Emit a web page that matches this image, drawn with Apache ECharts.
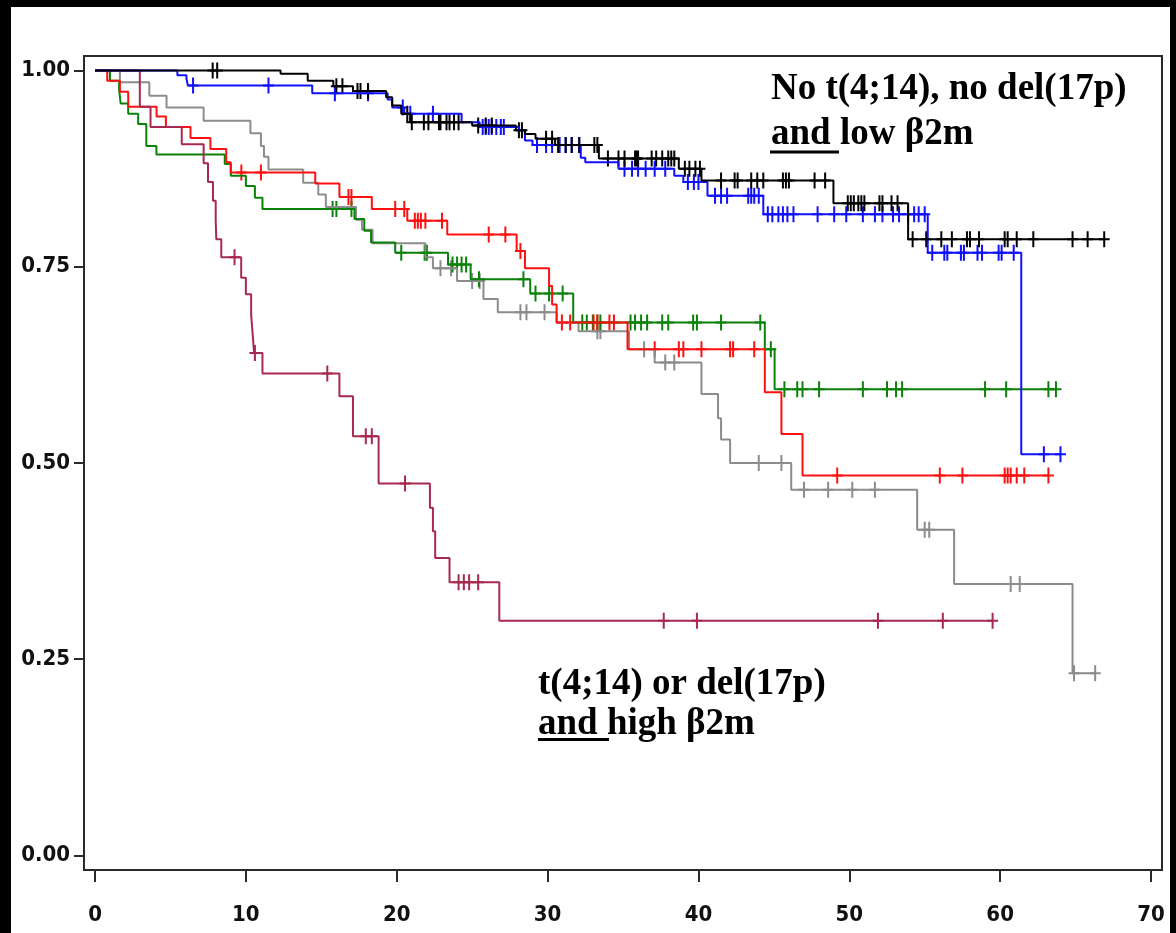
<!DOCTYPE html>
<html>
<head>
<meta charset="utf-8">
<title>Kaplan-Meier survival by cytogenetics and β2m</title>
<script src="https://cdn.jsdelivr.net/npm/echarts@6/dist/echarts.min.js"></script>
<style>
  html, body { margin: 0; padding: 0; background: #fff; }
  #chart { width: 1176px; height: 933px; }
</style>
</head>
<body>
<div id="chart"></div>
<script>
// Axis ticks (months, survival probability)
const xTicks = [0, 10, 20, 30, 40, 50, 60, 70];
const yTicks = [0, 0.25, 0.5, 0.75, 1];

// Each group: step points [time, survival from that time on] and censoring times
const blackSteps = [[0,1],[12.3,0.996],[14.1,0.987],[15.8,0.980],[17.1,0.974],[19.3,0.966],[19.7,0.9555],
  [20.3,0.945],[20.9,0.934],[25.0,0.930],[27.9,0.924],[28.5,0.919],[29.2,0.913],[30.5,0.905],[33.4,0.888],
  [38.7,0.875],[40.2,0.860],[48.95,0.831],[53.9,0.785]];
const blackCensored = [7.8,8.1,16.0,16.4,17.4,17.6,18.1,20.7,21.0,21.8,22.1,22.8,22.9,23.3,23.5,23.8,24.1,
  25.4,25.9,26.3,28.1,28.3,29.9,30.3,30.7,31.2,31.6,32.1,33.1,33.3,34.0,34.7,35.1,35.8,35.9,36.0,36.9,37.2,
  37.6,38.0,38.2,38.4,39.1,39.4,39.8,40.1,41.5,42.4,42.6,43.5,43.9,44.3,45.6,45.8,46.0,47.7,48.4,49.9,50.1,
  50.3,50.6,50.8,51.0,52.0,52.2,52.8,53.2,54.2,55.1,56.1,56.8,57.8,58.0,58.6,60.3,60.5,61.1,62.2,64.8,65.8,66.9];

const blueSteps = [[0,1],[5.46,0.994],[6.06,0.990],[6.15,0.981],[14.4,0.971],[19.4,0.963],[19.7,0.953],
  [20.5,0.945],[24.3,0.934],[25.5,0.928],[28.1,0.924],[28.5,0.911],[29.0,0.905],[32.2,0.889],[32.5,0.883],
  [34.7,0.875],[38.4,0.866],[39.0,0.858],[40.6,0.8406],[44.3,0.817],[55.2,0.768],[61.4,0.511]];
const blueCensored = [6.5,11.5,15.9,18.1,20.4,20.9,22.4,25.7,25.9,26.1,26.3,26.6,26.9,27.1,29.3,29.9,30.3,
  30.8,31.2,31.6,32.1,35.1,35.6,36.0,36.5,37.1,37.8,39.3,39.7,40.0,41.1,41.5,41.9,43.3,43.5,43.7,44.0,44.6,
  44.9,45.3,45.6,45.9,46.3,47.9,49.0,49.8,50.9,51.7,52.2,52.9,53.3,53.9,54.3,54.6,55.0,55.5,56.3,56.5,57.4,
  57.6,58.5,58.8,59.9,60.1,60.9,62.9,64.0];

const graySteps = [[0,1],[1.65,0.985],[3.6,0.968],[4.74,0.953],[7.2,0.936],[10.3,0.920],[11.0,0.904],
  [11.2,0.890],[11.5,0.874],[13.8,0.857],[14.8,0.842],[15.3,0.826],[17.3,0.810],[17.7,0.797],[18.4,0.780],
  [21.9,0.762],[22.4,0.748],[24.0,0.732],[25.75,0.709],[26.7,0.692],[30.6,0.679],[32.05,0.668],[35.4,0.645],
  [37.1,0.628],[40.2,0.588],[41.3,0.557],[41.5,0.530],[42.1,0.500],[46.15,0.466],[54.5,0.415],[56.95,0.346],
  [64.8,0.232]];
const grayCensored = [22.9,23.6,25.0,25.5,28.2,28.6,29.8,33.3,33.5,36.4,37.8,38.4,44.0,45.5,47.0,48.6,50.2,
  51.7,55.0,55.3,60.7,61.3,64.9,66.3];

const redSteps = [[0,1],[0.81,0.987],[1.65,0.973],[2.2,0.954],[4.08,0.9415],[4.7,0.928],[6.33,0.914],
  [7.65,0.900],[8.7,0.883],[9.0,0.870],[14.6,0.856],[16.2,0.839],[18.35,0.8235],[20.7,0.8086],[23.35,0.791],
  [27.95,0.770],[28.5,0.748],[30.1,0.7256],[30.3,0.702],[30.6,0.679],[35.3,0.645],[44.4,0.590],[45.5,0.537],
  [46.9,0.484]];
const redCensored = [9.7,11.0,16.8,17.0,19.9,20.5,21.2,21.4,21.6,21.9,23.0,26.1,27.2,28.2,30.95,31.5,33.05,
  33.3,34.1,34.4,37.1,38.7,39.0,40.2,42.1,42.3,43.7,49.2,56.0,57.5,60.3,60.5,60.7,61.1,61.6,63.2];

const greenSteps = [[0,1],[0.99,0.987],[1.6,0.975],[1.7,0.958],[2.2,0.945],[2.86,0.932],[3.4,0.904],
  [4.07,0.893],[8.6,0.881],[9.0,0.866],[10.0,0.853],[10.6,0.838],[11.1,0.8235],[17.2,0.811],[17.85,0.796],
  [18.3,0.781],[19.9,0.768],[23.4,0.753],[24.9,0.734],[28.85,0.716],[31.7,0.679],[44.4,0.645],[45.05,0.594]];
const greenCensored = [15.75,16.0,17.0,20.3,21.85,22.0,23.7,24.0,24.3,24.6,25.45,28.4,29.2,30.1,31.0,32.3,
  32.6,33.0,33.3,33.5,35.5,35.8,36.2,36.6,37.6,38.0,39.65,39.9,41.5,44.1,44.8,45.7,46.55,46.9,48.0,50.9,52.5,
  53.1,53.5,59.0,60.4,63.2,63.7];

const maroonSteps = [[0,1],[2.97,0.954],[3.68,0.928],[5.75,0.906],[7.2,0.882],[7.49,0.858],[7.82,0.834],
  [8.0,0.809],[8.04,0.785],[8.37,0.762],[9.69,0.736],[10.0,0.715],[10.35,0.689],[10.45,0.664],[10.55,0.640],
  [11.1,0.614],[16.2,0.585],[17.1,0.534],[18.8,0.474],[22.2,0.443],[22.4,0.413],[22.55,0.379],[23.5,0.348],
  [26.8,0.299]];
const maroonCensored = [9.25,10.6,15.4,17.95,18.35,20.55,24.1,24.45,24.8,25.4,37.7,39.9,51.9,56.2,59.5];

// Drawing order: later groups sit on top
const groups = [
  { name: 'gray',   color: '#8c8c8c', steps: graySteps,   censored: grayCensored },
  { name: 'green',  color: '#0a820a', steps: greenSteps,  censored: greenCensored },
  { name: 'red',    color: '#ff1010', steps: redSteps,    censored: redCensored },
  { name: 'maroon', color: '#a8294f', steps: maroonSteps, censored: maroonCensored },
  { name: 'blue',   color: '#1010ff', steps: blueSteps,   censored: blueCensored },
  { name: 'black',  color: '#000000', steps: blackSteps,  censored: blackCensored }
];

// Survival estimate at time t (right-continuous step function)
function survivalAt(steps, t) {
  let s = steps[0][1];
  for (const [ti, si] of steps) {
    if (ti <= t) s = si; else break;
  }
  return s;
}

// The curve runs on until the last follow-up time
function curveData(steps, censored) {
  const last = steps[steps.length - 1];
  const end = Math.max(last[0], censored[censored.length - 1]);
  return steps.concat([[end, last[1]]]);
}

const PLUS = 'path://M4.5,0h2v7h4.5v2h-4.5v7h-2v-7h-4.5v-2h4.5z';

const series = [];
groups.forEach(g => {
  series.push({
    type: 'line',
    name: g.name,
    step: 'end',
    data: curveData(g.steps, g.censored),
    showSymbol: false,
    silent: true,
    lineStyle: { color: g.color, width: 2 },
    itemStyle: { color: g.color },
    animation: false
  });
  series.push({
    type: 'scatter',
    name: g.name + ' censored',
    data: g.censored.map(t => [t, survivalAt(g.steps, t)]),
    symbol: PLUS,
    symbolSize: [11, 16],
    silent: true,
    itemStyle: { color: g.color, opacity: 1 },
    animation: false
  });
});

const tickFont = '"DejaVu Sans Condensed", "DejaVu Sans Mono", monospace';
const noteFont = 'bold 37px "Liberation Serif", "Times New Roman", serif';

const chart = echarts.init(document.getElementById('chart'), null, { renderer: 'canvas' });
chart.setOption({
  backgroundColor: '#ffffff',
  animation: false,
  grid: {
    left: 84, right: 14, top: 56, bottom: 63,
    show: true, borderColor: '#2a2a2a', borderWidth: 2, backgroundColor: '#ffffff'
  },
  xAxis: {
    type: 'value',
    min: -0.73, max: 70.73,
    splitLine: { show: false },
    axisLine: { show: false, onZero: false },
    axisTick: { show: true, customValues: xTicks, length: 12, lineStyle: { color: '#2a2a2a', width: 2 } },
    axisLabel: {
      customValues: xTicks, margin: 34,
      fontFamily: tickFont, fontSize: 22, fontWeight: 'bold', color: '#111'
    }
  },
  yAxis: {
    type: 'value',
    min: -0.0185, max: 1.0185,
    splitLine: { show: false },
    axisLine: { show: false, onZero: false },
    axisTick: { show: true, customValues: yTicks, length: 10, lineStyle: { color: '#2a2a2a', width: 2 } },
    axisLabel: {
      customValues: yTicks, margin: 14,
      formatter: v => v.toFixed(2),
      fontFamily: tickFont, fontSize: 22, fontWeight: 'bold', color: '#111'
    }
  },
  series: series,
  graphic: [
    // dark frame around the figure
    { type: 'rect', shape: { x: 0, y: 0, width: 1176, height: 7 }, style: { fill: '#000' }, z: 100 },
    { type: 'rect', shape: { x: 0, y: 0, width: 11, height: 933 }, style: { fill: '#000' }, z: 100 },
    { type: 'rect', shape: { x: 1170, y: 0, width: 6, height: 933 }, style: { fill: '#000' }, z: 100 },
    // group annotations
    { type: 'text', x: 771, y: 89, z: 50, style: { text: 'No t(4;14), no del(17p)', font: noteFont, fill: '#000', verticalAlign: 'middle' } },
    { type: 'text', x: 771, y: 134, z: 50, style: { text: 'and low β2m', font: noteFont, fill: '#000', verticalAlign: 'middle' } },
    { type: 'line', z: 50, shape: { x1: 770, y1: 152, x2: 839, y2: 152 }, style: { stroke: '#000', lineWidth: 3 } },
    { type: 'text', x: 538, y: 684, z: 50, style: { text: 't(4;14) or del(17p)', font: noteFont, fill: '#000', verticalAlign: 'middle' } },
    { type: 'text', x: 538, y: 724, z: 50, style: { text: 'and high β2m', font: noteFont, fill: '#000', verticalAlign: 'middle' } },
    { type: 'line', z: 50, shape: { x1: 538, y1: 739.5, x2: 609, y2: 739.5 }, style: { stroke: '#000', lineWidth: 3 } }
  ]
});
</script>
</body>
</html>
